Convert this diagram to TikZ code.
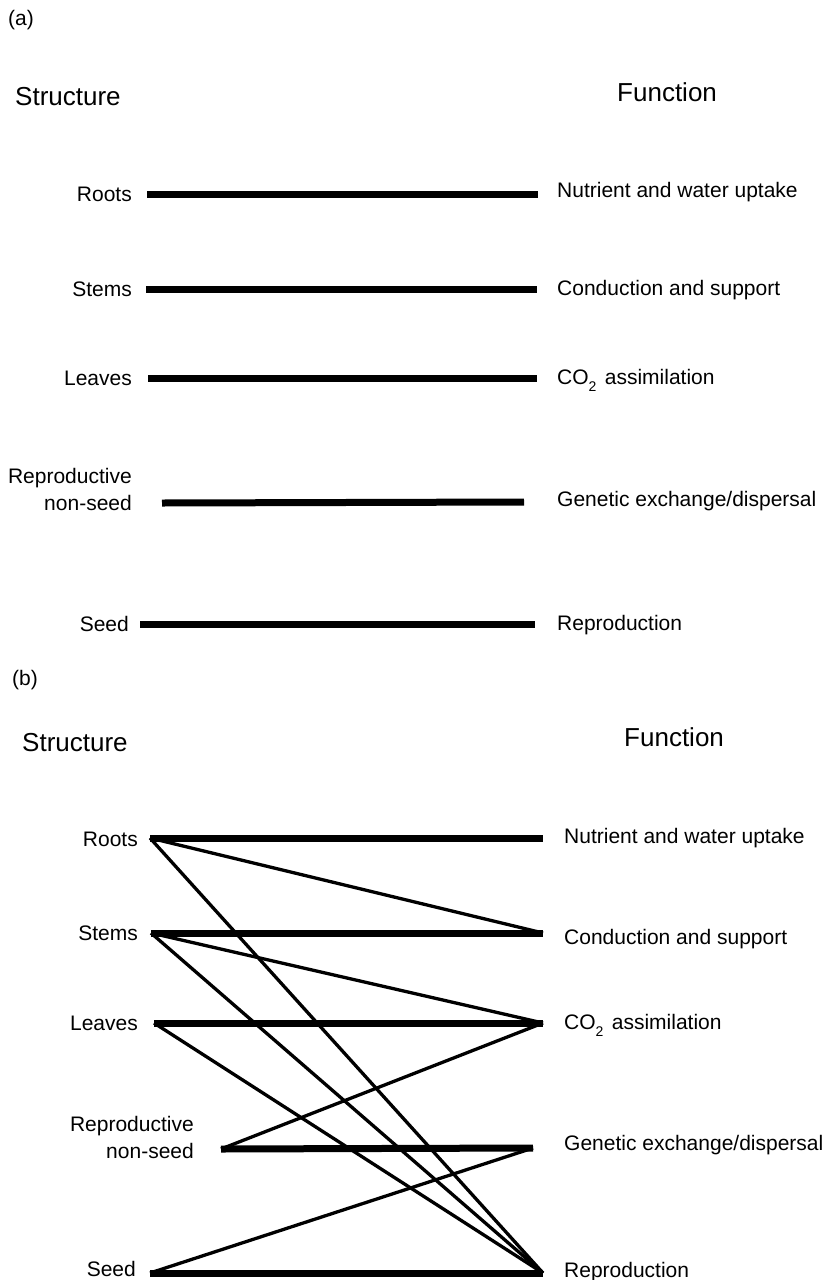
\documentclass[tikz,border=0pt]{standalone}
\usepackage{fontspec}
\setmainfont{Liberation Sans}
\newcommand{\subtwo}{\raisebox{-0.32em}{\fontsize{14}{14}\selectfont 2}\hspace{0.12em}}
\begin{document}
\begin{tikzpicture}[x=1pt,y=-1pt,
  lbl/.style={font=\fontsize{21}{27}\selectfont, inner sep=0pt, text height=15pt, text depth=0pt},
  lbltwo/.style={font=\fontsize{21}{27}\selectfont, inner sep=0pt, align=right},
  head/.style={font=\fontsize{26}{30}\selectfont, inner sep=0pt, text height=18.6pt, text depth=0pt},
  tag/.style={font=\fontsize{21}{24}\selectfont, inner sep=0pt},
  bar/.style={line width=7pt},
  link/.style={line width=3.3pt, line join=round},
]
\useasboundingbox (0,0) rectangle (830,1280);

% ---------------- (a) ----------------
\node[tag, anchor=west] (tagA) at (8,20) {(a)};
\node[head, anchor=west] (sA) at (15,96) {Structure};
\node[head, anchor=west] (fA) at (617,92) {Function};

\coordinate (aL1) at (147,194); \coordinate (aR1) at (538,194);
\coordinate (aL2) at (146,289); \coordinate (aR2) at (537,289);
\coordinate (aL3) at (148,378); \coordinate (aR3) at (537,378);
\coordinate (aL4) at (162,503); \coordinate (aR4) at (524,502);
\coordinate (aL5) at (140,624); \coordinate (aR5) at (535,624);

\node[lbl, anchor=east] (rootsA) at (132,194) {Roots};
\node[lbl, anchor=east] (stemsA) at (132,289) {Stems};
\node[lbl, anchor=east] (leavesA) at (132,378) {Leaves};
\node[lbltwo, anchor=east] (reproA) at (132,489) {Reproductive\\non-seed};
\node[lbl, anchor=east] (seedA) at (129,624) {Seed};

\node[lbl, anchor=west] (nutA) at (557,190) {Nutrient and water uptake};
\node[lbl, anchor=west] (condA) at (557,288) {Conduction and support};
\node[lbl, anchor=west] (co2A) at (557,377) {CO\subtwo{} assimilation};
\node[lbl, anchor=west] (genA) at (557,499) {Genetic exchange/dispersal};
\node[lbl, anchor=west] (repA) at (557,623) {Reproduction};

\draw[bar] (aL1) -- (aR1);
\draw[bar] (aL2) -- (aR2);
\draw[bar] (aL3) -- (aR3);
\draw[bar] (aL4) -- (aR4);
\draw[bar] (aL5) -- (aR5);

% ---------------- (b) ----------------
\node[tag, anchor=west] (tagB) at (12,680) {(b)};
\node[head, anchor=west] (sB) at (22,742) {Structure};
\node[head, anchor=west] (fB) at (624,737) {Function};

\coordinate (bL1) at (150,838); \coordinate (bR1) at (543,838);
\coordinate (bL2) at (151,933); \coordinate (bR2) at (543,933);
\coordinate (bL3) at (154,1023); \coordinate (bR3) at (543,1023);
\coordinate (bL4) at (221,1149); \coordinate (bR4) at (533,1148);
\coordinate (bL5) at (150,1273); \coordinate (bR5) at (543,1273);

\node[lbl, anchor=east] (rootsB) at (138,839) {Roots};
\node[lbl, anchor=east] (stemsB) at (138,933) {Stems};
\node[lbl, anchor=east] (leavesB) at (138,1023) {Leaves};
\node[lbltwo, anchor=east] (reproB) at (194,1137) {Reproductive\\non-seed};
\node[lbl, anchor=east] (seedB) at (136,1269) {Seed};

\node[lbl, anchor=west] (nutB) at (564,836) {Nutrient and water uptake};
\node[lbl, anchor=west] (condB) at (564,937) {Conduction and support};
\node[lbl, anchor=west] (co2B) at (564,1022) {CO\subtwo{} assimilation};
\node[lbl, anchor=west] (genB) at (564,1143) {Genetic exchange/dispersal};
\node[lbl, anchor=west] (repB) at (564,1270) {Reproduction};

\draw[bar] (bL1) -- (bR1);
\draw[bar] (bL2) -- (bR2);
\draw[bar] (bL3) -- (bR3);
\draw[bar] (bL4) -- (bR4);
\draw[bar] (bL5) -- (bR5);

\draw[link] (bL1) -- (bR2);
\draw[link] (bL1) -- (bR5);
\draw[link] (bL2) -- (bR3);
\draw[link] (bL2) -- (bR5);
\draw[link] (bL3) -- (bR5);
\draw[link] (bL4) -- (bR3);
\draw[link] (bL5) -- (bR4);
\end{tikzpicture}
\end{document}
